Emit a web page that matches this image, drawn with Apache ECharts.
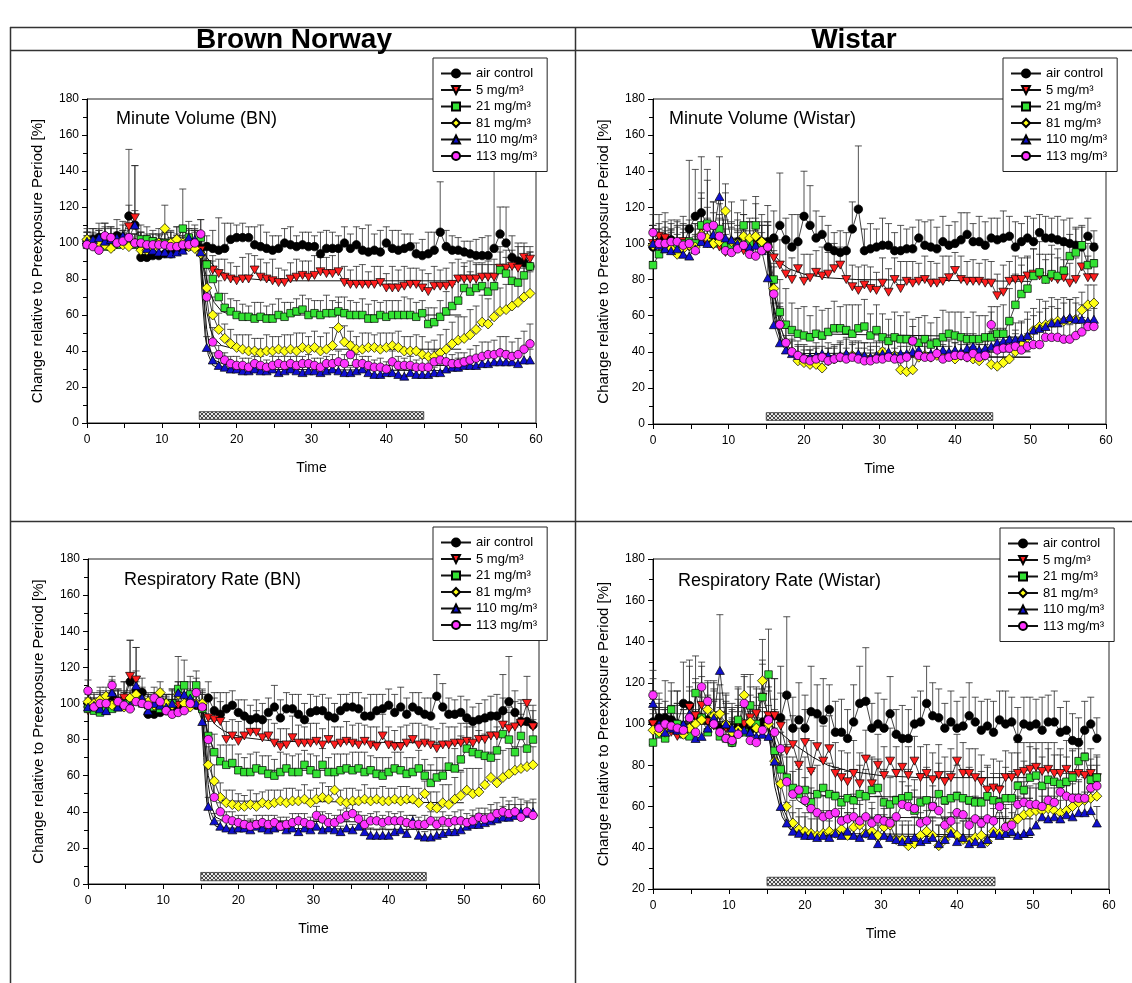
<!DOCTYPE html>
<html>
<head>
<meta charset="utf-8">
<title>Brown Norway / Wistar</title>
<script src="https://cdn.jsdelivr.net/npm/echarts@6/dist/echarts.min.js"></script>
<style>
  html, body { margin: 0; padding: 0; background: #fff; }
  #chart { width: 1132px; height: 983px; }
</style>
</head>
<body>
<div id="chart"></div>
<script>
// sampling times (min)
const minutes = [0,0.8,1.6,2.4,3.2,4,4.8,5.6,6.4,7.2,8,8.8,9.6,10.4,11.2,12,12.8,13.6,14.4,
  15.2,16,16.8,17.6,18.4,19.2,20,20.8,21.6,22.4,23.2,24,24.8,25.6,26.4,27.2,28,28.8,29.6,30.4,31.2,32,32.8,33.6,34.4,35.2,36,36.8,37.6,38.4,39.2,40,40.8,41.6,42.4,43.2,44,44.8,
  45.6,46.4,47.2,48,48.8,49.6,50.4,51.2,52,52.8,53.6,54.4,55.2,56,56.8,57.6,58.4,59.2]
const doseNames = ['air control', '5 mg/m³', '21 mg/m³', '81 mg/m³', '110 mg/m³', '113 mg/m³']
const exposureWindow = [15, 45]

// ---- Minute Volume, Brown Norway ----
const mvBnAir = [101,102,103,101,102,104,103,115,110,92,92,93,93,94,94,97,97,98,98,
  97,98,97,96,97,102,103,103,103,99,98,97,96,97,100,99,98,99,98,98,94,97,97,97,100,97,99,96,95,96,95,100,97,96,97,98,94,93,
  94,96,106,98,96,96,95,94,93,93,93,97,105,100,92,90,89,87]
const mvBnAirSd = [5,6,8,10,7,9,9,37,33,5,5,6,6,7,7,8,9,10,12,
  8,6,10,18,14,9,7,8,6,10,12,9,8,7,8,10,6,7,8,6,12,10,9,7,9,8,10,12,15,9,12,9,10,11,8,7,6,9,
  12,10,28,9,8,7,6,7,9,10,11,43,15,20,12,10,9,8]
const mvBn5 = [100,99,100,101,98,99,99,109,114,100,100,99,100,100,99,98,97,99,98,
  96,88,85,83,81,80,79,80,80,85,81,80,79,78,78,80,81,82,81,82,84,83,83,84,78,77,77,77,77,77,78,75,75,75,76,77,77,75,
  73,76,76,76,77,80,80,80,80,81,81,81,86,86,87,86,92,91]
const mvBn5Sd = [6,5,7,8,6,7,8,12,29,6,5,6,5,6,7,6,7,8,9,
  10,9,8,8,10,9,8,12,14,8,10,9,12,8,7,9,10,8,9,11,8,9,10,12,9,8,10,11,7,10,9,8,12,10,11,9,9,10,
  10,11,9,10,12,11,9,10,8,7,9,10,12,10,9,12,8,7]
const mvBn21 = [99,99,100,98,98,99,100,101,99,102,102,101,100,100,100,101,108,103,100,
  103,88,80,70,64,62,60,59,59,58,59,58,58,60,59,61,62,63,60,61,60,61,61,62,61,60,60,60,58,58,60,59,60,60,60,60,59,61,
  55,56,59,62,65,68,75,73,75,76,73,76,85,83,79,78,82,87]
const mvBn21Sd = [5,6,5,7,6,5,6,7,6,8,7,6,5,6,7,8,22,9,7,
  10,12,10,9,8,7,8,7,6,9,8,7,8,9,8,6,7,8,9,7,8,10,7,8,9,8,7,9,8,10,7,9,8,8,10,9,8,7,
  9,8,9,11,12,13,12,11,14,13,15,12,10,9,11,10,9,8]
const mvBn81 = [102,101,100,99,97,100,99,98,100,96,96,97,100,108,100,102,100,98,97,
  94,75,60,52,47,44,42,41,40,40,39,40,40,41,40,41,40,42,41,42,40,41,43,53,45,43,41,41,42,42,41,42,43,42,40,40,40,38,
  37,37,39,41,44,46,47,49,52,56,55,59,62,63,65,67,70,72]
const mvBn81Sd = [6,5,7,6,8,5,6,7,5,6,7,6,8,13,6,7,8,6,9,
  12,14,10,9,8,8,7,8,9,7,8,9,8,7,9,8,10,8,7,9,8,9,10,14,9,8,7,9,8,7,9,8,7,9,8,8,9,10,
  8,9,10,11,12,13,12,14,13,15,14,16,13,14,15,13,16,12]
const mvBn110 = [101,102,103,101,102,103,104,103,110,100,97,96,95,95,94,95,96,103,102,
  95,42,35,32,31,30,30,29,29,30,29,29,30,28,29,30,29,28,29,29,28,29,30,29,28,28,29,30,28,27,27,28,28,27,26,28,27,27,
  27,28,28,30,31,31,32,32,32,33,33,34,34,34,34,33,35,35]
const mvBn110Sd = [5,6,5,7,6,5,6,7,8,6,5,6,5,6,5,6,7,5,6,
  8,6,4,4,3,4,3,4,3,4,3,4,3,4,3,4,4,3,4,3,4,3,4,3,4,3,4,3,4,3,4,3,4,3,4,3,4,3,
  4,3,4,5,4,5,4,5,4,5,5,4,5,6,5,6,7,6]
const mvBn113 = [99,98,96,104,103,100,101,103,100,100,99,99,99,99,98,98,99,99,100,
  105,70,45,38,35,33,32,32,31,33,32,31,32,33,32,33,32,33,33,32,31,33,33,34,33,38,33,33,32,31,31,30,34,32,32,32,31,31,
  31,34,35,34,33,33,34,35,36,37,38,38,39,38,37,38,41,44]
const mvBn113Sd = [5,4,6,7,6,5,6,7,5,6,5,6,5,6,5,6,5,6,7,
  8,12,8,5,4,4,5,4,5,4,5,4,5,4,5,4,5,4,5,4,5,4,5,6,5,7,5,4,5,4,5,4,6,5,4,5,4,5,
  5,6,5,6,5,6,5,6,7,8,7,8,9,10,8,9,10,11]

// ---- Minute Volume, Wistar ----
const mvWiAir = [98,101,103,102,100,99,108,115,117,110,103,101,100,99,101,98,100,102,101,
  101,103,110,102,98,101,115,110,103,105,98,96,95,96,108,119,96,97,98,99,99,96,96,97,97,103,99,98,97,101,99,100,102,105,101,101,99,103,
  102,103,104,98,101,103,101,106,103,103,102,101,100,99,98,104,98]
const mvWiAirSd = [12,10,14,11,13,16,38,26,31,25,20,15,28,24,16,18,12,20,15,
  20,15,29,12,18,15,25,22,15,10,12,10,12,10,15,35,12,14,10,15,12,10,14,11,12,10,13,15,12,14,11,12,15,12,10,14,13,11,
  12,15,11,14,10,12,13,10,12,11,13,12,14,10,12,10,9]
const mvWi5 = [100,104,103,100,99,101,98,97,108,100,99,98,95,96,97,96,100,99,98,
  97,92,88,83,80,86,79,81,84,82,83,86,88,80,76,74,77,75,74,78,73,80,75,79,78,79,80,78,78,79,81,85,80,79,79,79,78,78,
  71,73,79,80,80,82,83,82,80,81,80,81,78,80,87,81,81]
const mvWi5Sd = [10,12,9,11,13,10,12,14,20,12,11,10,13,12,10,11,12,10,14,
  15,12,14,18,12,14,15,13,12,16,12,14,10,15,12,13,11,12,10,14,13,12,15,11,12,10,13,12,11,14,12,10,13,11,12,10,13,12,
  12,15,11,13,12,10,14,12,11,13,12,10,11,12,14,12,10]
const mvWi21 = [88,94,97,99,99,100,101,100,110,111,100,108,99,98,100,110,100,110,100,
  98,80,62,55,52,50,49,48,50,49,51,53,53,52,50,53,54,49,52,48,46,48,47,47,46,45,47,44,45,48,50,49,48,47,47,47,48,48,
  50,50,57,66,72,75,82,84,80,83,82,85,93,95,99,88,89]
const mvWi21Sd = [12,10,8,9,11,10,12,11,15,30,10,14,12,11,13,14,12,16,10,
  14,16,18,20,15,14,16,12,15,14,13,15,12,14,16,13,15,12,14,13,12,14,13,15,12,14,13,12,14,15,12,13,14,12,15,13,12,14,
  15,16,18,17,16,18,15,17,14,16,15,14,12,13,10,12,11]
const mvWi81 = [99,99,98,97,94,97,99,98,105,103,100,101,118,101,100,104,103,104,101,
  98,75,55,45,40,35,34,33,33,31,35,36,37,38,38,37,37,36,37,40,38,38,30,29,30,37,38,37,38,37,38,36,38,37,36,35,38,33,
  32,34,36,40,44,48,52,54,55,56,57,57,58,58,63,66,67]
const mvWi81Sd = [8,7,9,10,8,9,11,10,12,11,10,12,15,11,10,12,11,10,9,
  12,14,12,10,9,8,7,8,9,8,7,8,9,10,8,9,8,7,9,8,10,9,8,7,8,9,10,8,9,7,8,9,10,8,7,9,8,7,
  8,9,10,12,13,14,12,15,13,14,12,13,11,12,10,11,10]
const mvWi110 = [100,99,97,96,97,94,93,97,101,100,105,126,103,102,100,99,98,99,96,
  81,55,45,41,39,38,37,37,38,39,38,37,38,39,38,39,38,37,38,39,40,38,39,39,40,41,38,39,40,41,40,41,40,42,43,41,42,43,
  45,46,47,47,48,49,52,53,54,56,56,58,59,58,58,57,58]
const mvWi110Sd = [8,9,7,10,8,9,10,8,9,11,12,22,10,9,8,10,9,8,10,
  14,12,10,8,7,8,7,6,7,8,7,6,7,8,7,6,7,8,7,6,7,8,7,6,7,8,7,8,7,6,7,8,7,8,7,6,7,8,
  8,7,8,9,8,9,8,9,10,9,8,9,10,9,8,9,8]
const mvWi113 = [106,100,100,101,101,99,100,96,104,109,110,104,96,95,97,99,94,93,96,
  98,72,55,45,40,38,36,35,36,37,35,36,37,36,37,36,35,35,36,36,37,36,36,37,46,38,37,37,39,36,37,38,38,37,39,37,38,55,
  41,42,42,43,41,43,44,44,48,48,48,47,47,49,51,54,54]
const mvWi113Sd = [10,8,9,7,8,9,10,8,12,11,13,10,9,8,9,10,8,9,7,
  12,15,10,8,7,6,7,6,7,6,7,6,7,6,7,6,7,6,7,6,7,6,7,6,8,7,6,7,6,7,6,7,6,7,6,7,6,10,
  6,7,6,7,6,7,8,7,8,9,8,9,8,9,8,9,10]

// ---- Respiratory Rate, Brown Norway ----
const rrBnAir = [100,97,98,100,104,100,102,112,107,106,94,94,95,96,97,98,99,100,99,
  97,103,96,94,97,99,95,93,91,92,91,95,98,92,97,97,94,91,95,96,96,93,92,96,98,98,97,93,93,96,97,99,95,98,94,98,96,94,
  93,104,98,94,94,95,92,90,91,92,93,93,96,101,95,90,90,88]
const rrBnAirSd = [5,6,8,7,9,8,10,23,24,8,6,5,6,7,8,9,10,12,11,
  8,9,10,12,9,8,7,9,8,10,9,8,12,10,9,8,11,9,10,8,9,10,8,9,7,8,9,10,12,9,8,9,10,11,9,8,10,9,
  10,12,13,9,8,9,10,8,9,10,11,12,20,25,12,10,9,8]
const rrBn5 = [96,97,98,97,99,101,103,115,113,100,99,98,100,99,100,99,98,100,99,
  97,92,91,90,80,82,79,82,84,84,81,82,78,76,77,81,78,78,78,79,77,80,77,78,79,78,77,79,77,76,82,77,76,76,78,80,77,78,
  77,75,77,77,78,78,79,78,80,80,82,82,88,86,87,89,100,87]
const rrBn5Sd = [6,5,7,6,8,7,9,20,18,7,6,5,7,6,8,7,6,5,7,
  9,10,12,11,10,9,11,10,9,12,10,9,11,10,9,12,10,9,11,10,9,12,10,9,11,10,12,9,10,11,12,10,9,11,10,9,12,10,
  10,11,12,10,9,11,10,12,11,10,13,12,15,12,14,13,15,12]
const rrBn21 = [97,96,95,96,97,98,100,101,102,100,99,98,97,99,100,108,110,105,110,
  97,82,73,68,66,67,63,62,62,64,63,61,60,62,64,62,62,66,63,61,66,62,62,63,64,63,64,62,63,61,60,62,64,63,61,62,64,60,
  56,59,60,65,64,69,75,73,72,71,70,74,83,80,73,82,75,80]
const rrBn21Sd = [6,5,7,6,5,6,7,6,8,7,6,5,7,6,8,18,14,10,8,
  10,12,10,9,11,10,9,8,10,9,8,10,9,11,8,9,10,8,9,10,9,8,10,9,8,10,9,11,8,9,10,8,9,10,9,8,10,9,
  10,11,10,12,11,13,12,14,13,12,14,13,12,15,14,12,13,11]
const rrBn81 = [101,100,102,104,99,100,98,103,105,102,101,99,106,100,99,105,100,98,100,
  100,66,57,48,45,44,43,43,44,43,45,44,45,46,45,46,46,47,45,47,48,47,52,46,45,46,46,47,46,47,46,46,47,46,47,47,45,50,
  43,42,45,44,47,49,52,50,51,55,59,56,59,61,63,64,65,66]
const rrBn81Sd = [5,6,7,5,6,7,6,8,7,6,5,7,6,5,8,7,6,5,7,
  8,10,9,8,7,8,7,6,8,7,6,8,7,6,8,7,6,8,7,6,8,7,9,6,8,7,6,8,7,6,8,7,6,8,7,6,8,7,
  8,9,10,11,12,13,12,14,13,15,14,13,15,14,13,12,11,10]
const rrBn110 = [98,99,97,96,106,98,100,99,110,103,96,100,99,98,100,106,105,103,100,
  90,43,35,32,31,30,31,31,30,32,31,30,31,32,30,31,29,31,30,32,30,31,30,29,31,30,32,29,27,27,27,27,29,30,28,35,27,26,
  26,27,28,29,29,30,32,33,33,34,35,36,37,37,38,40,39,40]
const rrBn110Sd = [5,6,5,7,6,5,6,7,8,6,5,6,5,6,5,6,7,5,6,
  6,5,4,3,4,3,4,3,4,3,4,3,4,3,4,3,4,3,4,3,4,3,4,3,4,3,4,3,4,3,4,3,4,3,4,3,4,3,
  4,3,4,5,4,5,4,5,6,5,6,5,6,7,6,7,6,7]
const rrBn113 = [107,98,100,100,110,101,99,97,101,100,99,103,101,96,94,95,96,100,106,
  98,80,48,40,36,35,34,33,32,33,34,33,34,32,33,34,35,34,33,38,36,34,34,36,38,39,36,33,35,35,34,35,35,35,34,33,33,33,
  35,33,35,34,35,35,34,35,37,36,37,39,40,39,40,37,40,38]
const rrBn113Sd = [6,5,7,6,5,6,7,5,6,7,5,6,7,5,6,7,5,6,8,
  7,10,8,5,4,5,4,5,4,5,4,5,4,5,4,5,4,5,4,5,4,5,4,5,4,5,4,5,4,5,4,5,4,5,4,5,4,5,
  5,4,5,4,5,6,5,6,5,6,7,6,8,7,8,7,6,7]

// ---- Respiratory Rate, Wistar ----
const rrWiAir = [101,103,103,102,100,110,109,104,103,102,100,98,99,91,99,100,97,98,101,
  103,104,103,114,98,102,98,106,105,102,107,96,96,93,101,110,111,98,100,98,105,95,93,93,100,101,110,104,103,98,101,98,99,104,101,97,99,96,
  102,100,101,93,100,99,100,97,101,101,96,97,92,91,97,100,93]
const rrWiAirSd = [15,12,18,14,16,20,22,18,25,12,20,14,16,15,18,14,12,20,16,
  20,18,25,38,15,18,16,22,14,20,12,15,16,14,18,18,26,12,15,14,18,12,16,14,13,15,18,16,14,12,15,13,14,16,12,14,13,15,
  14,16,12,15,13,14,12,16,13,15,12,14,13,12,14,13,10]
const rrWi5 = [100,98,97,96,94,96,108,104,109,101,99,104,98,96,101,100,103,105,113,
  104,104,99,87,90,80,91,77,89,82,88,76,74,72,76,71,83,71,80,75,82,76,79,75,82,74,76,73,75,72,74,82,76,76,74,72,68,69,
  68,74,74,76,77,78,79,77,78,76,76,78,75,76,75,76,74]
const rrWi5Sd = [12,14,10,13,11,15,20,16,14,12,13,15,12,14,11,13,15,12,18,
  20,18,16,15,14,18,16,15,14,17,16,15,13,14,16,15,14,13,15,14,16,13,15,14,12,15,14,13,15,12,14,13,15,12,14,13,12,14,
  14,13,12,15,14,13,12,14,13,15,12,14,13,12,11,12,10]
const rrWi21 = [91,95,93,107,100,95,94,115,103,96,104,94,93,91,102,96,109,100,113,
  124,87,78,74,69,66,68,62,66,69,66,65,62,64,63,66,65,68,69,62,61,63,64,65,58,62,63,60,66,63,64,65,64,63,62,62,65,63,
  62,64,64,70,68,74,75,70,73,72,71,72,74,82,84,73,74]
const rrWi21Sd = [14,12,15,13,16,12,14,18,15,13,17,14,15,12,16,14,15,13,16,
  22,20,18,16,15,14,16,15,14,13,15,14,16,13,15,14,13,15,14,16,13,15,14,13,15,14,16,13,15,14,13,15,14,16,13,15,14,13,
  14,15,13,16,14,15,13,14,15,13,14,12,13,11,12,10,11]
const rrWi81 = [97,96,96,98,97,95,98,100,102,107,104,105,100,96,97,114,101,98,121,
  100,82,71,60,52,49,48,47,46,47,48,47,49,46,50,51,47,48,46,50,51,44,44,41,42,46,48,46,41,44,48,46,44,43,45,46,43,48,
  47,50,52,54,56,57,58,58,59,58,57,58,60,62,63,64,65]
const rrWi81Sd = [10,12,9,11,13,10,12,14,11,13,12,10,14,11,12,10,13,11,20,
  18,16,14,12,11,10,9,10,9,11,10,9,10,11,9,10,9,11,10,9,10,11,9,10,9,11,10,9,10,11,9,10,9,11,10,9,10,11,
  10,11,12,11,10,12,11,12,10,11,10,12,11,10,12,11,10]
const rrWi110 = [110,100,96,98,97,100,105,93,94,98,103,126,100,98,96,97,96,94,95,
  94,82,60,52,48,47,46,46,45,46,45,47,46,48,46,45,47,46,42,46,45,44,43,44,45,43,44,45,42,44,47,43,45,42,43,42,44,47,
  46,47,48,46,47,48,51,55,54,55,54,56,55,57,57,58,52]
const rrWi110Sd = [12,10,11,9,12,10,13,11,10,12,14,27,11,10,12,11,10,12,11,
  15,14,12,10,9,8,9,8,9,10,8,9,8,9,10,8,9,8,9,10,8,9,8,9,10,8,9,8,9,10,8,9,8,9,10,8,9,8,
  9,8,9,10,9,8,9,10,11,10,9,10,11,9,10,9,8]
const rrWi113 = [114,98,100,99,98,97,103,96,118,111,100,96,93,92,95,110,92,91,97,
  102,96,88,72,66,68,63,59,57,55,56,57,53,54,55,53,55,52,54,53,52,55,61,60,59,52,53,60,58,51,53,57,56,51,54,52,54,53,
  60,50,51,61,62,61,61,60,63,62,67,65,64,64,64,69,70]
const rrWi113Sd = [12,10,11,9,12,10,13,11,12,10,11,9,12,10,11,13,10,12,11,
  14,16,13,12,11,10,11,10,9,10,11,10,9,10,11,10,9,10,11,10,9,10,11,10,9,10,11,10,9,10,11,10,9,10,11,10,9,10,
  10,9,10,11,10,9,10,11,10,9,10,11,10,9,10,11,10]

// fitted curves, [min, %]
const fitMvBn5 = [[0,101],[15,101],[16,92],[17,87],[18,84],[19,82],[20,81],[22,80],[25,79],[50,79]]
const fitMvBn21 = [[0,101],[15,101],[15.5,90],[16,80],[16.5,72],[17,67],[18,62],[19,60.5],[21,60],[50,60]]
const fitMvBn81 = [[0,100],[15,100],[15.5,80],[16,62],[16.5,52],[17,47],[18,43],[20,41],[50,41]]
const fitMvBn110 = [[0,100],[15,100],[15.4,70],[15.8,48],[16.2,38],[16.8,32],[18,30],[50,29]]
const fitMvBn113 = [[0,100],[15,100],[15.5,75],[16,52],[16.5,40],[17,35],[18,33],[20,32],[50,32]]
const fitMvWi5 = [[0,100],[15,100],[16,94],[17,89],[18,86],[20,83],[23,81],[27,80],[50,79]]
const fitMvWi21 = [[0,101],[15,101],[15.5,88],[16,72],[17,58],[18,52],[20,50],[50,48]]
const fitMvWi81 = [[0,101],[15,101],[15.5,85],[16,65],[17,48],[18,41],[20,38],[50,37]]
const fitMvWi110 = [[0,100],[15,100],[15.5,80],[16,60],[17,45],[18,41],[20,39],[50,40]]
const fitMvWi113 = [[0,100],[15,100],[15.5,82],[16,63],[17,46],[18,40],[20,37],[50,37]]
const fitRrBn5 = [[0,100],[15,100],[16,93],[17,88],[18,85],[19,83],[21,81],[25,79],[50,78]]
const fitRrBn21 = [[0,101],[15,101],[15.5,92],[16,82],[17,72],[18,67],[19,65],[22,63],[50,63]]
const fitRrBn81 = [[0,101],[15,101],[15.5,80],[16,60],[16.5,52],[17,48],[18,46],[50,45]]
const fitRrBn110 = [[0,100],[15,100],[15.4,70],[15.8,45],[16.3,36],[17,32],[18,31],[50,30]]
const fitRrBn113 = [[0,101],[15,101],[15.5,78],[16,55],[16.5,42],[17,37],[18,35],[50,34]]
const fitRrWi5 = [[0,101],[15,101],[17,95],[19,89],[21,84],[23,80],[26,77],[30,75],[35,74],[50,74]]
const fitRrWi21 = [[0,101],[15,101],[16,88],[17,77],[18,71],[20,67],[23,65],[50,64]]
const fitRrWi81 = [[0,100],[15,100],[15.5,90],[16,75],[17,60],[18,52],[19,49],[21,47],[50,46]]
const fitRrWi110 = [[0,100],[15,100],[15.5,88],[16,70],[17,55],[18,49],[20,46],[50,45]]
const fitRrWi113 = [[0,100],[15,100],[16,92],[17,80],[18,70],[19,63],[21,58],[24,55],[50,54]]

const markers = [
  { symbol: 'circle', size: 8.5, color: '#000000' },
  { symbol: 'path://M0,0L10,0L5,9Z', size: [9, 8], color: '#ff1e1e' },
  { symbol: 'rect', size: 7.5, color: '#33e233' },
  { symbol: 'diamond', size: [10, 10], color: '#ffff14' },
  { symbol: 'triangle', size: [9, 8], color: '#1010d0' },
  { symbol: 'circle', size: 8.5, color: '#ff33ff' }
]

const panels = [
  {
    title: 'Minute Volume (BN)', titleX: 116, titleY: 119,
    grid: { left: 87, top: 99, width: 449, height: 324 }, yMin: 0, barY: [2, 6.3],
    legend: { left: 433, top: 58 },
    values: [mvBnAir, mvBn5, mvBn21, mvBn81, mvBn110, mvBn113],
    sds: [mvBnAirSd, mvBn5Sd, mvBn21Sd, mvBn81Sd, mvBn110Sd, mvBn113Sd],
    fits: [fitMvBn5, fitMvBn21, fitMvBn81, fitMvBn110, fitMvBn113]
  },
  {
    title: 'Minute Volume (Wistar)', titleX: 669, titleY: 119,
    grid: { left: 653, top: 99, width: 453, height: 325 }, yMin: 0, barY: [2, 6.3],
    legend: { left: 1003, top: 58 },
    values: [mvWiAir, mvWi5, mvWi21, mvWi81, mvWi110, mvWi113],
    sds: [mvWiAirSd, mvWi5Sd, mvWi21Sd, mvWi81Sd, mvWi110Sd, mvWi113Sd],
    fits: [fitMvWi5, fitMvWi21, fitMvWi81, fitMvWi110, fitMvWi113]
  },
  {
    title: 'Respiratory Rate (BN)', titleX: 124, titleY: 580,
    grid: { left: 88, top: 559, width: 451, height: 325 }, yMin: 0, barY: [1.8, 6.4],
    legend: { left: 433, top: 527 },
    values: [rrBnAir, rrBn5, rrBn21, rrBn81, rrBn110, rrBn113],
    sds: [rrBnAirSd, rrBn5Sd, rrBn21Sd, rrBn81Sd, rrBn110Sd, rrBn113Sd],
    fits: [fitRrBn5, fitRrBn21, fitRrBn81, fitRrBn110, fitRrBn113]
  },
  {
    title: 'Respiratory Rate (Wistar)', titleX: 678, titleY: 581,
    grid: { left: 653, top: 559, width: 456, height: 330 }, yMin: 20, barY: [21.6, 25.7],
    legend: { left: 1000, top: 528 },
    values: [rrWiAir, rrWi5, rrWi21, rrWi81, rrWi110, rrWi113],
    sds: [rrWiAirSd, rrWi5Sd, rrWi21Sd, rrWi81Sd, rrWi110Sd, rrWi113Sd],
    fits: [fitRrWi5, fitRrWi21, fitRrWi81, fitRrWi110, fitRrWi113]
  }
]

const FONT = '"Liberation Sans", Arial, sans-serif'

const makeHatch = () => {
  const c = document.createElement('canvas')
  c.width = 4
  c.height = 4
  const g = c.getContext('2d')
  g.fillStyle = '#e8e8e8'
  g.fillRect(0, 0, 4, 4)
  g.fillStyle = '#4a4a4a'
  for (let i = 0; i < 4; i++) {
    g.fillRect(i, i, 1, 1)
    g.fillRect(3 - i, i, 1, 1)
  }
  return c
}
const hatch = makeHatch()

const errorBar = (params, api) => {
  const base = api.coord([api.value(0), api.value(1)])
  const top = api.coord([api.value(0), api.value(2)])
  const style = { stroke: '#2a2a2a', lineWidth: 0.8 }
  return {
    type: 'group',
    children: [
      { type: 'line', shape: { x1: base[0], y1: base[1], x2: top[0], y2: top[1] }, style },
      { type: 'line', shape: { x1: top[0] - 3.5, y1: top[1], x2: top[0] + 3.5, y2: top[1] }, style }
    ]
  }
}

const exposureBar = (params, api) => {
  const a = api.coord([api.value(0), api.value(3)])
  const b = api.coord([api.value(1), api.value(2)])
  return {
    type: 'rect',
    shape: { x: a[0], y: a[1], width: b[0] - a[0], height: b[1] - a[1] },
    style: { fill: { image: hatch, repeat: 'repeat' }, stroke: '#333', lineWidth: 0.8 }
  }
}

const grids = []
const xAxes = []
const yAxes = []
const legends = []
const series = []
const graphics = []

panels.forEach((p, pi) => {
  grids.push({ ...p.grid, show: true, borderColor: '#222', borderWidth: 1, backgroundColor: 'transparent' })
  xAxes.push({
    type: 'value', gridIndex: pi, min: 0, max: 60, interval: 10,
    axisLine: { onZero: false, lineStyle: { color: '#000', width: 1 } },
    axisTick: { length: 5, lineStyle: { color: '#000' } },
    minorTick: { show: true, splitNumber: 2, length: 5, lineStyle: { color: '#000' } },
    axisLabel: { color: '#000', fontSize: 12, margin: 11, fontFamily: FONT },
    splitLine: { show: false },
    name: 'Time', nameLocation: 'middle', nameGap: 38,
    nameTextStyle: { color: '#000', fontSize: 14, fontFamily: FONT }
  })
  yAxes.push({
    type: 'value', gridIndex: pi, min: p.yMin, max: 180, interval: 20,
    axisLine: { onZero: false, lineStyle: { color: '#000', width: 1 } },
    axisTick: { length: 5, lineStyle: { color: '#000' } },
    minorTick: { show: true, splitNumber: 2, length: 4, lineStyle: { color: '#000' } },
    axisLabel: { color: '#000', fontSize: 12, margin: 8, fontFamily: FONT },
    splitLine: { show: false },
    name: 'Change relative to Preexposure Period [%]', nameLocation: 'middle', nameGap: 42,
    nameTextStyle: { color: '#000', fontSize: 15, fontFamily: FONT }
  })
  legends.push({
    data: doseNames, orient: 'vertical', left: p.legend.left, top: p.legend.top,
    padding: [9, 10, 9, 7], itemWidth: 30, itemHeight: 10, itemGap: 3.5,
    borderColor: '#222', borderWidth: 1, backgroundColor: '#fff',
    textStyle: { color: '#000', fontSize: 13, lineHeight: 13, fontFamily: FONT },
    selectedMode: false
  })

  series.push({
    type: 'custom', name: 'exposure ' + pi, xAxisIndex: pi, yAxisIndex: pi, z: 1, silent: true,
    data: [[exposureWindow[0], exposureWindow[1], p.barY[0], p.barY[1]]],
    renderItem: exposureBar
  })

  p.values.forEach((vals, si) => {
    const sd = p.sds[si]
    series.push({
      type: 'custom', name: 'sd ' + pi + '-' + si, xAxisIndex: pi, yAxisIndex: pi, z: 2, silent: true,
      encode: { x: 0, y: [1, 2] },
      data: vals.map((v, i) => [minutes[i], v, v + sd[i]]),
      renderItem: errorBar
    })
  })

  p.fits.forEach((fit, fi) => {
    series.push({
      type: 'line', name: 'fit ' + pi + '-' + fi, xAxisIndex: pi, yAxisIndex: pi, z: 3, silent: true,
      data: fit, showSymbol: false, symbol: 'none',
      lineStyle: { color: '#111', width: 1 }
    })
  })

  p.values.forEach((vals, si) => {
    const m = markers[si]
    series.push({
      type: 'line', name: doseNames[si], xAxisIndex: pi, yAxisIndex: pi, z: 4,
      data: vals.map((v, i) => [minutes[i], v]),
      symbol: m.symbol, symbolSize: m.size,
      lineStyle: { color: '#111', width: 0.8 },
      itemStyle: { color: m.color, borderColor: '#000', borderWidth: 0.7 },
      emphasis: { disabled: true }
    })
  })

  graphics.push({
    type: 'text', x: p.titleX, y: p.titleY,
    style: { text: p.title, fill: '#000', font: '18px ' + FONT, verticalAlign: 'middle' }
  })
})

// table frame and strain headings
const frame = { stroke: '#333', lineWidth: 1.5 }
graphics.push(
  { type: 'line', shape: { x1: 10, y1: 27.5, x2: 1132, y2: 27.5 }, style: frame },
  { type: 'line', shape: { x1: 10, y1: 50.5, x2: 1132, y2: 50.5 }, style: frame },
  { type: 'line', shape: { x1: 10, y1: 521.5, x2: 1132, y2: 521.5 }, style: frame },
  { type: 'line', shape: { x1: 10.5, y1: 27, x2: 10.5, y2: 983 }, style: frame },
  { type: 'line', shape: { x1: 575.5, y1: 27, x2: 575.5, y2: 983 }, style: frame },
  { type: 'text', x: 294, y: 40, style: { text: 'Brown Norway', fill: '#000', font: 'bold 28px ' + FONT, align: 'center', verticalAlign: 'middle' } },
  { type: 'text', x: 854, y: 40, style: { text: 'Wistar', fill: '#000', font: 'bold 28px ' + FONT, align: 'center', verticalAlign: 'middle' } }
)

const chart = echarts.init(document.getElementById('chart'))
chart.setOption({
  animation: false,
  backgroundColor: '#fff',
  textStyle: { fontFamily: FONT },
  grid: grids,
  xAxis: xAxes,
  yAxis: yAxes,
  legend: legends,
  series,
  graphic: graphics
})
</script>
</body>
</html>
